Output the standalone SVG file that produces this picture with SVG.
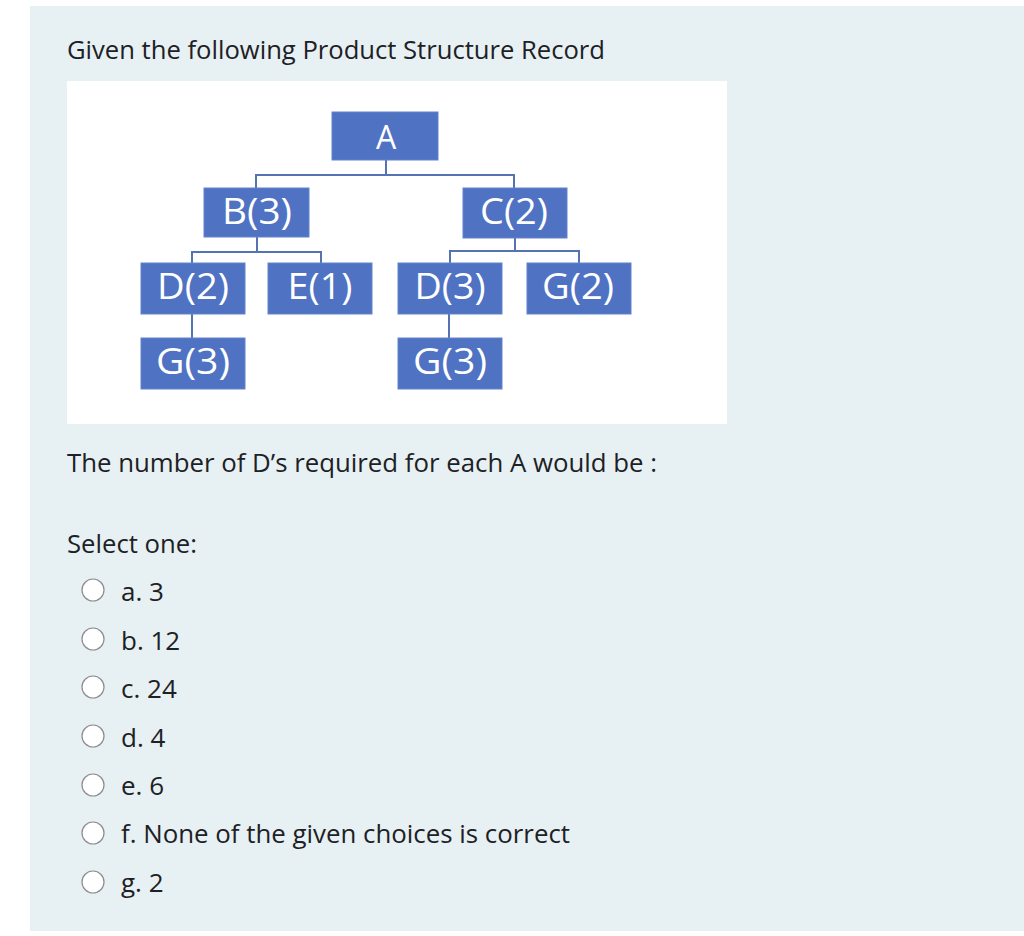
<svg xmlns="http://www.w3.org/2000/svg" width="1024" height="936" viewBox="0 0 1024 936">
<style>
.page{font-family:"Open Sans","Noto Sans","DejaVu Sans",sans-serif;font-size:26px;fill:#1d2125}
.box{fill:#4F72C3;stroke:#6384CB;stroke-width:1}
.lbl{font-family:"Open Sans","Noto Sans","DejaVu Sans",sans-serif;font-size:37px;fill:#ffffff;text-anchor:middle}
.conn{fill:none;stroke:#5473B0;stroke-width:2}
.radio{fill:#ffffff;stroke:#8c8c8c;stroke-width:1.2}
</style>
<rect x="0" y="0" width="1024" height="936" fill="#ffffff"/>
<rect x="30" y="6" width="994" height="925" fill="#E7F0F3"/>
<text class="page" x="67" y="59" textLength="538" lengthAdjust="spacingAndGlyphs">Given the following Product Structure Record</text>
<rect x="67" y="81" width="660" height="343" fill="#ffffff"/>
<g id="connectors">
<path class="conn" d="M386,160 V175 M256,188 V175 H514 V188"/>
<path class="conn" d="M257,237 V252 M192,263 V252 H321 V263"/>
<path class="conn" d="M515,238 V251 M450,263 V251 H579 V263"/>
<path class="conn" d="M192,314 V338"/>
<path class="conn" d="M449,314 V338"/>
</g>
<g id="node-A"><rect class="box" x="332" y="112" width="106" height="48"/><text class="lbl" x="386" y="149" style="font-size:32px">A</text></g>
<g id="node-B3"><rect class="box" x="204" y="188" width="105" height="49"/><text class="lbl" x="257" y="224" textLength="70" lengthAdjust="spacingAndGlyphs">B(3)</text></g>
<g id="node-C2"><rect class="box" x="463" y="188" width="104" height="50"/><text class="lbl" x="514" y="224" textLength="68" lengthAdjust="spacingAndGlyphs">C(2)</text></g>
<g id="node-D2"><rect class="box" x="141" y="263" width="104" height="51"/><text class="lbl" x="193" y="299" textLength="72" lengthAdjust="spacingAndGlyphs">D(2)</text></g>
<g id="node-E1"><rect class="box" x="268" y="263" width="104" height="51"/><text class="lbl" x="320" y="299" textLength="65" lengthAdjust="spacingAndGlyphs">E(1)</text></g>
<g id="node-D3"><rect class="box" x="398" y="263" width="104" height="51"/><text class="lbl" x="450" y="299" textLength="71" lengthAdjust="spacingAndGlyphs">D(3)</text></g>
<g id="node-G2"><rect class="box" x="527" y="263" width="104" height="51"/><text class="lbl" x="578" y="299" textLength="72" lengthAdjust="spacingAndGlyphs">G(2)</text></g>
<g id="node-G3a"><rect class="box" x="141" y="338" width="104" height="51"/><text class="lbl" x="193" y="374" textLength="74" lengthAdjust="spacingAndGlyphs">G(3)</text></g>
<g id="node-G3b"><rect class="box" x="398" y="338" width="104" height="51"/><text class="lbl" x="450" y="374" textLength="74" lengthAdjust="spacingAndGlyphs">G(3)</text></g>
<text class="page" x="67" y="472" textLength="590" lengthAdjust="spacingAndGlyphs">The number of D’s required for each A would be :</text>
<text class="page" x="67" y="553" textLength="130" lengthAdjust="spacingAndGlyphs">Select one:</text>
<g id="options">
<circle class="radio" cx="93" cy="590" r="11"/><text class="page" x="121" y="601">a. 3</text>
<circle class="radio" cx="93" cy="639" r="11"/><text class="page" x="121" y="650">b. 12</text>
<circle class="radio" cx="93" cy="687" r="11"/><text class="page" x="121" y="698">c. 24</text>
<circle class="radio" cx="93" cy="736" r="11"/><text class="page" x="121" y="747">d. 4</text>
<circle class="radio" cx="93" cy="785" r="11"/><text class="page" x="121" y="795">e. 6</text>
<circle class="radio" cx="93" cy="833" r="11"/><text class="page" x="121" y="843" textLength="449" lengthAdjust="spacingAndGlyphs">f. None of the given choices is correct</text>
<circle class="radio" cx="93" cy="882" r="11"/><text class="page" x="121" y="892">g. 2</text>
</g>
</svg>
